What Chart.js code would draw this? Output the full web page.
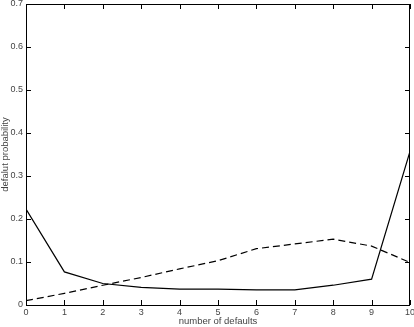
<!DOCTYPE html>
<html>
<head>
<meta charset="utf-8">
<script src="https://cdn.jsdelivr.net/npm/chart.js@4"></script>
<style>
  html, body { margin: 0; padding: 0; background: #fff; }
  #wrap { width: 414px; height: 327px; }
</style>
</head>
<body>
<div id="wrap"><canvas id="chart" width="414" height="327"></canvas></div>
<script>
// values
const defaults = [0, 1, 2, 3, 4, 5, 6, 7, 8, 9, 10];
const solidProb = [0.223, 0.077, 0.050, 0.041, 0.037, 0.037, 0.035, 0.035, 0.046, 0.060, 0.357];
const dashedProb = [0.010, 0.027, 0.046, 0.064, 0.084, 0.103, 0.131, 0.142, 0.153, 0.137, 0.099];
const yTicks = [0, 0.1, 0.2, 0.3, 0.4, 0.5, 0.6, 0.7];

const textColor = '#444';
const font = { family: 'Liberation Sans, Arial, sans-serif', size: 9 };
const titleFont = { family: 'Liberation Sans, Arial, sans-serif', size: 9.5 };

// box frame with inward ticks on all four sides
const frameTicks = {
  id: 'frameTicks',
  afterDraw(chart) {
    const { ctx, chartArea: a, scales } = chart;
    const len = 5;
    ctx.save();
    ctx.strokeStyle = '#000';
    ctx.lineWidth = 1;
    ctx.strokeRect(a.left + 0.5, a.top + 0.5, a.right - a.left - 1, a.bottom - a.top);
    ctx.beginPath();
    defaults.forEach(v => {
      const x = Math.round(scales.x.getPixelForValue(v)) + 0.5;
      ctx.moveTo(x, a.bottom); ctx.lineTo(x, a.bottom - len);
      ctx.moveTo(x, a.top); ctx.lineTo(x, a.top + len);
    });
    yTicks.forEach(v => {
      const y = Math.round(scales.y.getPixelForValue(v)) + 0.5;
      ctx.moveTo(a.left, y); ctx.lineTo(a.left + len, y);
      ctx.moveTo(a.right, y); ctx.lineTo(a.right - len, y);
    });
    ctx.stroke();
    ctx.restore();
  }
};

new Chart(document.getElementById('chart'), {
  type: 'line',
  data: {
    labels: defaults,
    datasets: [{
      data: defaults.map((x, i) => ({ x, y: solidProb[i] })),
      borderColor: '#000',
      borderWidth: 1.2,
      pointRadius: 0,
      tension: 0,
    }, {
      data: defaults.map((x, i) => ({ x, y: dashedProb[i] })),
      borderColor: '#000',
      borderWidth: 1.2,
      borderDash: [7, 4],
      pointRadius: 0,
      tension: 0,
    }]
  },
  options: {
    responsive: false,
    animation: false,
    plugins: { legend: { display: false }, tooltip: { enabled: false } },
    layout: { padding: { top: 4, right: 4, left: 0, bottom: 0 } },
    scales: {
      x: {
        type: 'linear',
        min: 0,
        max: 10,
        grid: { display: false, drawTicks: false },
        border: { display: false },
        afterBuildTicks: s => { s.ticks = defaults.map(v => ({ value: v })); },
        afterFit: s => { s.height = 22; s.paddingLeft = 0; s.paddingRight = 0; },
        ticks: { color: textColor, font, padding: 2, maxRotation: 0, autoSkip: false },
        title: { display: true, text: 'number of defaults', color: textColor, font: titleFont, padding: 0 }
      },
      y: {
        min: 0,
        max: 0.7,
        grid: { display: false, drawTicks: false },
        border: { display: false },
        afterBuildTicks: s => { s.ticks = yTicks.map(v => ({ value: v })); },
        afterFit: s => { s.width = 26; s.paddingTop = 0; s.paddingBottom = 0; },
        ticks: { color: textColor, font, padding: 3, callback: v => String(Math.round(v * 10) / 10) },
        title: { display: true, text: 'defalut probability', color: textColor, font: titleFont, padding: 0 }
      }
    }
  },
  plugins: [frameTicks]
});
</script>
</body>
</html>
